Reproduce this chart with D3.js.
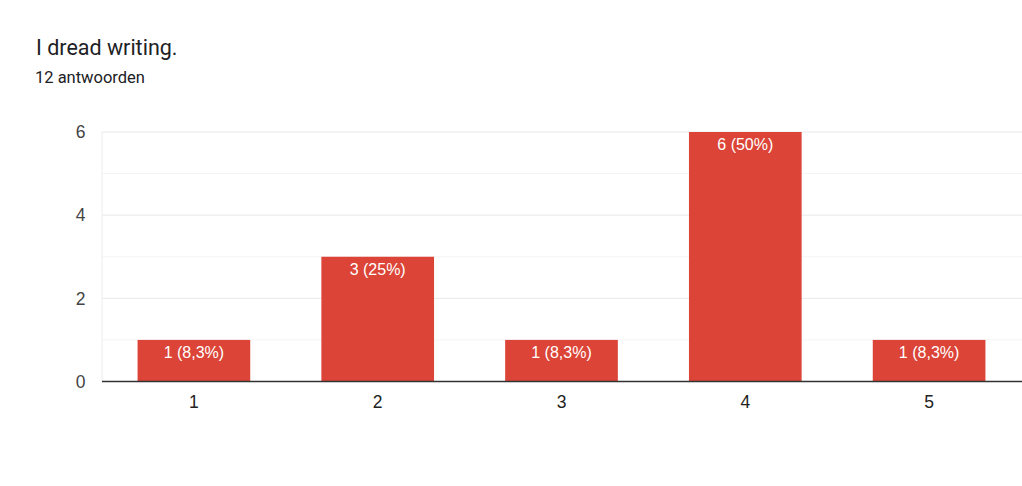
<!DOCTYPE html>
<html>
<head>
<meta charset="utf-8">
<script src="https://cdn.jsdelivr.net/npm/d3@7"></script>
<style>
  body { margin: 0; background: #fff; }
</style>
</head>
<body>
<div id="chart"></div>
<script>
// antwoordschaal en aantallen
const categories = ['1', '2', '3', '4', '5'];
const counts = [1, 3, 1, 6, 1];
const labels = ['1 (8,3%)', '3 (25%)', '1 (8,3%)', '6 (50%)', '1 (8,3%)'];
const yTicks = [0, 2, 4, 6];
const yMinor = [1, 3, 5];

const width = 1022,
  height = 486;

const plotLeft = 102, plotRight = 1021, plotTop = 132, plotBottom = 381.5;
const chartFont = 'Arial, "Liberation Sans", sans-serif';

const x = d3.scaleBand()
  .domain(categories)
  .range([plotLeft, plotRight])
  .paddingInner(0.387)
  .paddingOuter(0.1935);

const y = d3.scaleLinear()
  .domain([0, 6])
  .range([plotBottom, plotTop]);

const svg = d3.select('#chart').append('svg')
  .attr('width', width)
  .attr('height', height)
  .style('font-family', 'Roboto, sans-serif');

svg.append('text')
  .attr('x', 36)
  .attr('y', 55)
  .attr('fill', '#202124')
  .style('font-size', '21.5px')
  .text('I dread writing.');

svg.append('text')
  .attr('x', 35)
  .attr('y', 83)
  .attr('fill', '#202124')
  .style('font-size', '16.5px')
  .text('12 antwoorden');

// rasterlijnen
svg.append('g').selectAll('line')
  .data(yMinor)
  .enter().append('line')
  .attr('x1', plotLeft).attr('x2', width)
  .attr('y1', d => y(d)).attr('y2', d => y(d))
  .attr('stroke', '#f4f4f4');

svg.append('g').selectAll('line')
  .data(yTicks.filter(d => d > 0))
  .enter().append('line')
  .attr('x1', plotLeft).attr('x2', width)
  .attr('y1', d => y(d)).attr('y2', d => y(d))
  .attr('stroke', '#e8e8e8');

svg.append('line')
  .attr('x1', plotLeft).attr('x2', plotLeft)
  .attr('y1', plotTop).attr('y2', plotBottom)
  .attr('stroke', '#ececec');

svg.append('g').selectAll('text')
  .data(yTicks)
  .enter().append('text')
  .attr('x', 85.5)
  .attr('y', d => y(d))
  .attr('dy', '0.36em')
  .attr('text-anchor', 'end')
  .attr('fill', '#444')
  .style('font-family', chartFont)
  .style('font-size', '17.5px')
  .text(d => d);

svg.append('g').selectAll('rect')
  .data(counts)
  .enter().append('rect')
  .attr('x', (d, i) => x(categories[i]))
  .attr('y', d => y(d))
  .attr('width', x.bandwidth())
  .attr('height', d => y(0) - y(d))
  .attr('fill', '#db4437');

svg.append('g').selectAll('text')
  .data(counts)
  .enter().append('text')
  .attr('x', (d, i) => x(categories[i]) + x.bandwidth() / 2)
  .attr('y', d => y(d) + 18)
  .attr('text-anchor', 'middle')
  .attr('fill', '#fff')
  .style('font-family', chartFont)
  .style('font-size', '16px')
  .text((d, i) => labels[i]);

// x-as
svg.append('line')
  .attr('x1', plotLeft).attr('x2', width)
  .attr('y1', plotBottom).attr('y2', plotBottom)
  .attr('stroke', '#333')
  .attr('stroke-width', 1.5);

svg.append('g').selectAll('text')
  .data(categories)
  .enter().append('text')
  .attr('x', d => x(d) + x.bandwidth() / 2)
  .attr('y', 408)
  .attr('text-anchor', 'middle')
  .attr('fill', '#222')
  .style('font-family', chartFont)
  .style('font-size', '17.5px')
  .text(d => d);
</script>
</body>
</html>
